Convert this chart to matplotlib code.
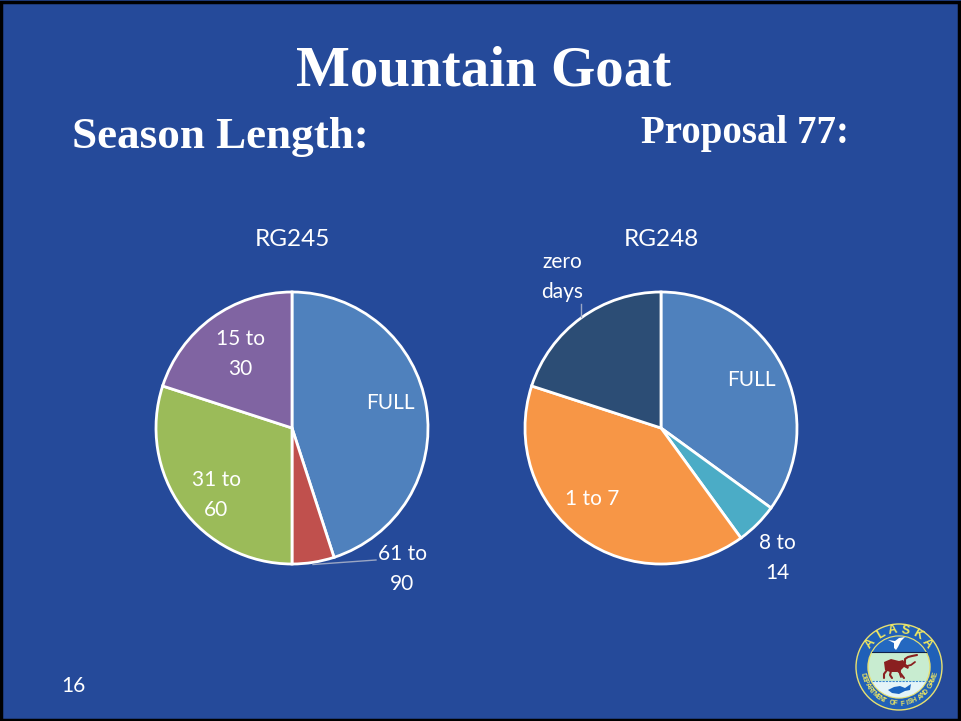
import numpy as np
import matplotlib
matplotlib.use('Agg')
import matplotlib.pyplot as plt
from matplotlib.patches import Circle, Polygon, Rectangle

W, H = 961, 721
BG = '#254a9a'

labels_245 = ['FULL', '61 to\n90', '31 to\n60', '15 to\n30']
values_245 = [45, 5, 30, 20]
colors_245 = ['#4f81bd', '#c0504d', '#9bbb59', '#8064a2']

labels_248 = ['FULL', '8 to\n14', '1 to 7', 'zero\ndays']
values_248 = [35, 5, 40, 20]
colors_248 = ['#4f81bd', '#4bacc6', '#f79646', '#2c4d75']

fig = plt.figure(figsize=(W / 100, H / 100), dpi=100, facecolor=BG)

# page overlay in pixel coords, y going down
page = fig.add_axes([0, 0, 1, 1])
page.set_xlim(0, W)
page.set_ylim(H, 0)
page.axis('off')
page.add_patch(Rectangle((1, 2), W - 3, H - 3, fill=False, ec='black', lw=2.5))


def txt(x, y, s, size, **kw):
    kw.setdefault('family', 'Lato')
    page.text(x, y, s, fontsize=size, color='white', ha='center', va='center', **kw)


txt(484, 71, 'Mountain Goat', 41, family='Liberation Serif', weight='bold')
txt(220, 137, 'Season Length:', 32.5, family='Liberation Serif', weight='bold')
txt(745, 134, 'Proposal 77:', 28, family='Liberation Serif', weight='bold')
txt(292, 240, 'RG245', 17.5)
txt(661, 240, 'RG248', 17.5)
txt(73, 686, '16', 15)


def pie(cx, cy, r, values, colors):
    # axes a bit larger than the pie, placed by pixels
    b = r * 1.1
    ax = fig.add_axes([(cx - b) / W, 1 - (cy + b) / H, 2 * b / W, 2 * b / H])
    ax.pie(values, colors=colors, startangle=90, counterclock=False, radius=1,
           wedgeprops={'edgecolor': 'white', 'linewidth': 2})
    ax.set_xlim(-1.1, 1.1)
    ax.set_ylim(-1.1, 1.1)
    ax.set_zorder(0)
    return ax


pie(292, 428, 136, values_245, colors_245)
pie(661, 428, 136, values_248, colors_248)
page.set_zorder(2)
page.patch.set_alpha(0)

# data labels
pos_245 = [(390, 403), (402, 569), (216, 495), (240, 354)]
pos_248 = [(751, 380), (777, 558), (592, 499), (562, 277)]
for lab, (x, y) in zip(labels_245, pos_245):
    txt(x, y, lab, 15, linespacing=1.6)
for lab, (x, y) in zip(labels_248, pos_248):
    txt(x, y, lab, 15, linespacing=1.6)

# leader lines
page.plot([376, 313], [560, 564.5], color='#9aa6c4', lw=1)
page.plot([581, 581], [304, 317], color='#9aa6c4', lw=1)

# ADF&G seal
lx, ly, lr = 899, 667, 43
page.add_patch(Circle((lx, ly), lr, fc='#2060b8', ec='#e8e070', lw=1))
page.add_patch(Circle((lx, ly), 31, fc='#c8ecd0', ec='#e8e070', lw=1))
sky = Circle((lx, ly), 30.5, fc='#2468c0', lw=0)
page.add_patch(sky)
sky.set_clip_path(Rectangle((lx - lr, ly - lr), 2 * lr, lr - 15, transform=page.transData))
page.plot([lx - 27, lx + 27], [ly - 15, ly - 15], color='#10204a', lw=0.8)
water = Circle((lx, ly), 30.5, fc='#e4f4f8', lw=0)
page.add_patch(water)
water.set_clip_path(Rectangle((lx - lr, ly + 14), 2 * lr, lr, transform=page.transData))
page.plot([lx - 27, lx + 27], [ly + 14, ly + 14], color='#3a88d0', lw=0.8, ls=(0, (2, 1)))


def shape(points, color):
    page.add_patch(Polygon(np.array(points) + (lx, ly), closed=True, fc=color, lw=0))


def stroke(xs, ys, color, width):
    page.plot(np.array(xs) + lx, np.array(ys) + ly, color=color, lw=width, solid_capstyle='round')


# bird
shape([(-11, -27), (-4, -26), (0, -29), (6, -30), (2, -26), (-1, -20), (-3, -17), (-5, -19), (-5, -24)], 'white')
# caribou: body, then legs and antlers as strokes
shape([(-15, -5), (-8, -8), (0, -6), (4, -7), (6, -4), (10, 0), (9, 2), (5, 0), (2, 3), (-2, 5), (-9, 5), (-14, 3)], '#8a2020')
stroke([-12, -15, -15], [3, 7, 11], '#8a2020', 1.5)
stroke([-8, -9, -7], [4, 8, 11], '#8a2020', 1.5)
stroke([-1, 2, 5], [4, 7, 11], '#8a2020', 1.5)
stroke([1, 1, 2], [3, 7, 10], '#8a2020', 1.3)
stroke([6, 6, 9, 13, 18], [-4, -8, -10, -11, -12], '#8a2020', 1.5)
stroke([8, 12, 16], [-1, -2, -5], '#8a2020', 1.3)
# fish
shape([(-11, 23), (-5, 20), (1, 19), (6, 21), (12, 17), (11, 23), (6, 24), (0, 27), (-7, 26)], '#1a64c0')


# ring text, one rotated letter at a time
def ring(s, radius, a0, a1, size, top=True):
    for ch, a in zip(s, np.linspace(a0, a1, len(s))):
        t = np.radians(a)
        x = lx + radius * np.cos(t)
        y = ly - radius * np.sin(t)
        page.text(x, y, ch, fontsize=size, color='#f0e860', ha='center', va='center',
                  family='Liberation Sans', weight='bold', rotation=a - 90 if top else a + 90)


ring('ALASKA', 37, 140, 40, 9)
ring('DEPARTMENT OF FISH AND GAME', 37, 192, 348, 5, top=False)

fig.savefig('out.png', dpi=100, facecolor=BG)
